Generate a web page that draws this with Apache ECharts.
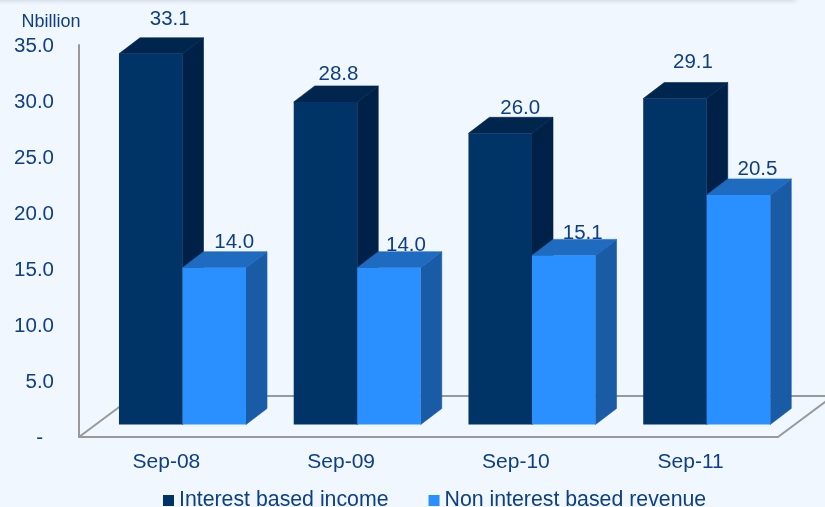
<!DOCTYPE html>
<html>
<head>
<meta charset="utf-8">
<style>html,body{margin:0;padding:0;background:#f0f7ff}#c{width:825px;height:507px}</style>
<script src="https://cdn.jsdelivr.net/npm/echarts@6/dist/echarts.min.js"></script>
</head>
<body>
<div id="c"></div>
<script>
var categories = ['Sep-08', 'Sep-09', 'Sep-10', 'Sep-11'];
var interestIncome = [33.1, 28.8, 26.0, 29.1];
var nonInterestRevenue = [14.0, 14.0, 15.1, 20.5];
var seriesNames = ['Interest based income', 'Non interest based revenue'];
var unitLabel = 'Nbillion';

// label tweaks, as [dx, dy] from the top face of each bar
var nudgeInterest = [[-2, -18], [-8, -12], [-1, -9], [-3, -20]];
var nudgeNonInterest = [[-1, -9], [-4, -6], [-2, -6], [-2, -10]];

var FONT = '"Liberation Sans", Arial, sans-serif';
var TEXT = '#0e3f84';
var GRAY = '#999999';
var DX = 21, DY = 16, LIFT = 12.5, BAR_FRAC = 0.3635;

function face(points, color) {
  return { type: 'polygon', shape: { points: points }, style: { fill: color, stroke: color, lineWidth: 0.6 } };
}

function boxItem(faces, slot, nudges) {
  return function (params, api) {
    var i = api.value(0), v = api.value(1);
    var top = api.coord([i, v]);
    var base = api.coord([i, 0]);
    var w = api.size([1, 0])[0] * BAR_FRAC;
    var x0 = top[0] - 47.4 + slot * w;
    var x1 = x0 + w;
    var yt = top[1] - LIFT;
    var yb = base[1] - LIFT;
    var n = nudges[i];
    return {
      type: 'group',
      children: [
        face([[x1, yt], [x1 + DX, yt - DY], [x1 + DX, yb - DY], [x1, yb]], faces.side),
        face([[x0, yt], [x0 + DX, yt - DY], [x1 + DX, yt - DY], [x1, yt]], faces.top),
        { type: 'rect', shape: { x: x0, y: yt, width: w, height: yb - yt }, style: { fill: faces.front } },
        { type: 'text', z2: 50, style: {
            x: (x0 + x1) / 2 + DX + n[0], y: yt - DY + n[1],
            text: v.toFixed(1), fill: TEXT, font: '20.5px ' + FONT,
            align: 'center', verticalAlign: 'middle' } }
      ]
    };
  };
}

function floorItem(params) {
  var c = params.coordSys;
  var yb = c.y + c.height, xl = c.x, xr = c.x + c.width;
  var ln = function (a, b, d, e) {
    return { type: 'line', shape: { x1: a, y1: b, x2: d, y2: e }, style: { stroke: GRAY, lineWidth: 2 } };
  };
  return {
    type: 'group',
    children: [
      ln(xl, yb, xl + 55, yb - 41),
      ln(xl + 55, yb - 41, 825, yb - 41),
      ln(xr, yb, xr + 55, yb - 41)
    ]
  };
}

function rows(vals) { return vals.map(function (v, i) { return [i, v]; }); }

var chart = echarts.init(document.getElementById('c'), null, { renderer: 'canvas' });
chart.setOption({
  animation: false,
  backgroundColor: '#f0f7ff',
  graphic: [{
    type: 'rect', z: 100, shape: { x: -10, y: -6, width: 806, height: 6 },
    style: { fill: '#ffffff', shadowBlur: 4, shadowColor: 'rgba(90,100,120,0.22)', shadowOffsetY: 1 }
  }],
  grid: { left: 79, top: 45, width: 699, height: 392, containLabel: false },
  legend: {
    data: seriesNames, left: 158, top: 485, icon: 'rect', itemWidth: 11, itemHeight: 11, itemGap: 40,
    textStyle: { color: TEXT, fontFamily: FONT, fontSize: 21.3 }
  },
  xAxis: {
    type: 'category', data: categories,
    axisLine: { lineStyle: { color: GRAY, width: 2 } },
    axisTick: { show: false },
    axisLabel: { color: TEXT, fontFamily: FONT, fontSize: 21, margin: 15 }
  },
  yAxis: {
    type: 'value', min: 0, max: 35, interval: 5,
    name: unitLabel, nameLocation: 'end', nameGap: 14,
    nameTextStyle: { color: TEXT, fontFamily: FONT, fontSize: 18, align: 'center', padding: [0, 56, 0, 0] },
    axisLine: { show: true, lineStyle: { color: GRAY, width: 2 } },
    axisTick: { show: false },
    splitLine: { show: false },
    axisLabel: {
      color: TEXT, fontFamily: FONT, fontSize: 20.5, margin: 25, padding: [2, 0, 0, 0],
      formatter: function (v) { return v === 0 ? '{d|-}' : v.toFixed(1); },
      rich: { d: { color: TEXT, fontFamily: FONT, fontSize: 20.5, padding: [0, 11, 0, 0] } }
    }
  },
  series: [
    { type: 'custom', silent: true, z: 1, data: [[0, 0]], encode: { x: 0, y: 1 }, renderItem: floorItem },
    { type: 'custom', name: seriesNames[0], z: 2, itemStyle: { color: '#003366' },
      data: rows(interestIncome), encode: { x: 0, y: 1 },
      renderItem: boxItem({ front: '#003366', top: '#00264d', side: '#002147' }, 0, nudgeInterest) },
    { type: 'custom', name: seriesNames[1], z: 3, itemStyle: { color: '#2a8fff' },
      data: rows(nonInterestRevenue), encode: { x: 0, y: 1 },
      renderItem: boxItem({ front: '#2a8fff', top: '#1f6bc0', side: '#1a5ba6' }, 1, nudgeNonInterest) }
  ]
});
</script>
</body>
</html>
